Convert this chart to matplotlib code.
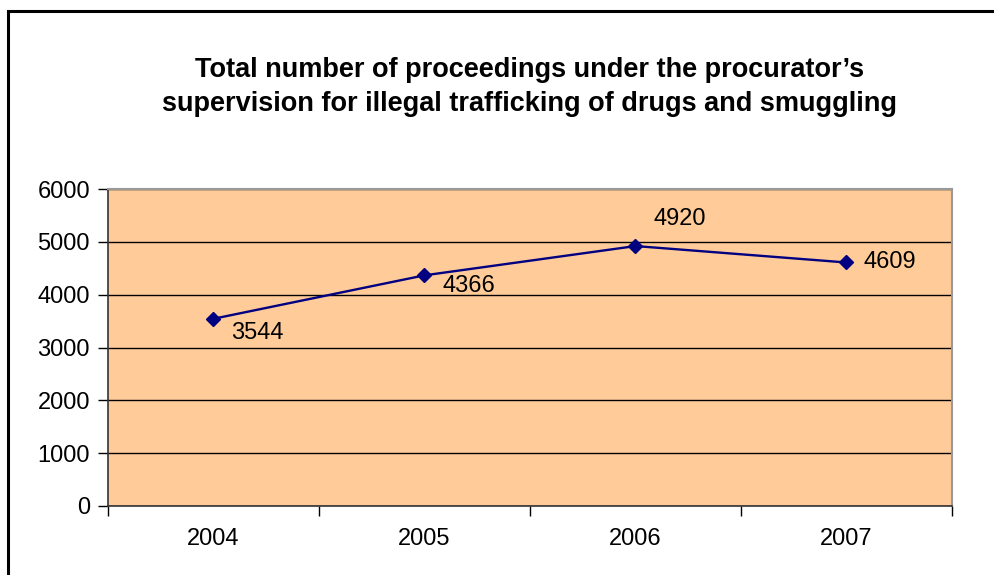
import matplotlib
matplotlib.use("Agg")
import matplotlib.pyplot as plt
from matplotlib.patches import Rectangle

plt.rcParams['font.family'] = ['Liberation Sans', 'DejaVu Sans']

years = ["2004", "2005", "2006", "2007"]
proceedings = [3544, 4366, 4920, 4609]
y_ticks = [0, 1000, 2000, 3000, 4000, 5000, 6000]
# label placement (pixels) relative to each point
label_offsets = [(18, -14), (18, -11), (18, 27), (17, 0)]

fig = plt.figure(figsize=(9.95, 5.75), dpi=100)
fig.patch.set_facecolor("white")

# outer chart frame
fig.add_artist(Rectangle((8 / 995, -0.05), 1.05, 1 - 11 / 575 + 0.05,
                         transform=fig.transFigure, fill=False,
                         edgecolor="black", linewidth=2.2))

ax = fig.add_axes([108 / 995, 1 - 506 / 575, (952 - 108) / 995, (506 - 189) / 575])
ax.set_facecolor("#FFCC99")

x = list(range(len(years)))
ax.plot(x, proceedings, color="#000080", linewidth=1.7, marker="D",
        markersize=7, markerfacecolor="#000080", markeredgecolor="#000080",
        zorder=3)

for xi, v, off in zip(x, proceedings, label_offsets):
    ax.annotate(str(v), (xi, v), xytext=off, textcoords="offset pixels",
                ha="left", va="center", fontsize=17, color="black")

ax.set_xlim(-0.5, len(years) - 0.5)
ax.set_ylim(0, 6000)
ax.set_yticks(y_ticks)
ax.set_yticklabels([str(t) for t in y_ticks], fontsize=17)
ax.yaxis.grid(True, color="black", linewidth=1)
ax.set_axisbelow(True)

# category ticks sit between categories, labels centred on them
ax.set_xticks([i - 0.5 for i in range(len(years) + 1)])
ax.set_xticklabels([])
ax.set_xticks(x, minor=True)
ax.set_xticklabels(years, minor=True, fontsize=17)
ax.tick_params(axis="x", which="minor", length=0, pad=16)
ax.tick_params(axis="x", which="major", length=7, width=1, direction="out")
ax.tick_params(axis="y", length=7, width=1, direction="out", pad=6)

for side in ("top", "right"):
    ax.spines[side].set_color("#999999")
    ax.spines[side].set_linewidth(1.5)
for side in ("left", "bottom"):
    ax.spines[side].set_color("#333333")
    ax.spines[side].set_linewidth(1.2)

fig.text(530 / 995, 1 - 87 / 575,
         "Total number of proceedings under the procurator\u2019s\n"
         "supervision for illegal trafficking of drugs and smuggling",
         ha="center", va="center", fontsize=19.5, fontweight="bold",
         linespacing=1.4)

fig.savefig("out.png", dpi=100)
